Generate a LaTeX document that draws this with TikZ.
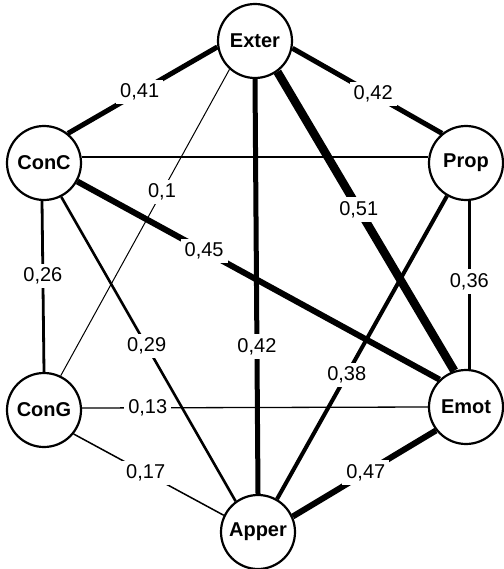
\documentclass[tikz,border=0pt]{standalone}
\usepackage{fontspec}
\setmainfont{Liberation Sans}
\usetikzlibrary{backgrounds}
\begin{document}
\begin{tikzpicture}[x=1pt,y=-1pt,
  vnode/.style={circle,draw,line width=2.2pt,fill=white,minimum size=74pt,inner sep=0pt,font=\fontsize{20}{22}\selectfont\bfseries},
  lbl/.style={fill=white,inner sep=4pt,font=\fontsize{20}{22}\selectfont}]
\useasboundingbox (0,0) rectangle (503,569);
\node[vnode] (E) at (255,41) {Exter};
\node[vnode] (C) at (44,163) {ConC};
\node[vnode] (P) at (466,163) {Prop};
\node[vnode] (G) at (44,410) {ConG};
\node[vnode] (M) at (466,407) {Emot};
\node[vnode] (A) at (258,532) {Apper};
\begin{scope}[on background layer]
\draw[line width=2.8pt] (C.9) -- (P.171);
\draw[line width=5pt] (C.51) -- node[lbl,pos=.48] (l1) {0,41} (E.189);
\draw[line width=5pt] (E.349) -- node[lbl,pos=.54] (l2) {0,42} (P.129);
\draw[line width=1pt] (G.64) -- node[lbl,pos=.6] (l3) {0,1} (E.228);
\draw[line width=8.5pt] (E.306) -- node[lbl,pos=.46] (l4) {0,51} (M.108);
\draw[line width=5pt] (E.270) -- node[lbl,pos=.645] (l5) {0,42} (A.90);
\draw[line width=6pt] (C.331) -- node[lbl,pos=.35] (l6) {0,45} (M.134);
\draw[line width=2.8pt] (C.267) -- node[lbl,pos=.44] (l7) {0,26} (G.90);
\draw[line width=2.6pt] (C.297) -- node[lbl,pos=.49] (l8) {0,29} (A.126);
\draw[line width=3pt] (P.275) -- node[lbl,pos=.48] (l9) {0,36} (M.85);
\draw[line width=4pt] (P.240) -- node[lbl,pos=.59] (l10) {0,38} (A.60);
\draw[line width=1.3pt] (G.3) -- node[lbl,pos=.19] (l11) {0,13} (M.180);
\draw[line width=1.5pt] (G.321) -- node[lbl,pos=.48] (l12) {0,17} (A.154);
\draw[line width=6pt] (M.218) -- node[lbl,pos=.49] (l13) {0,47} (A.24);
\end{scope}
\end{tikzpicture}
\end{document}
